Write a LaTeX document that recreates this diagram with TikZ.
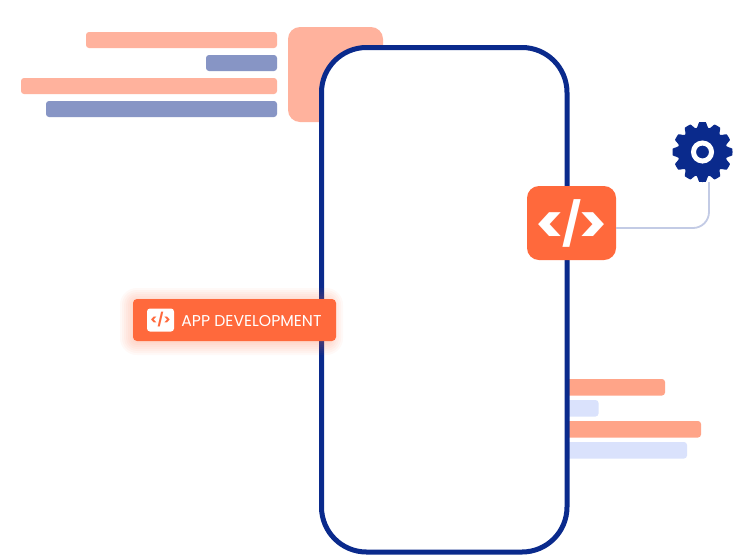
\documentclass[tikz,border=0pt]{standalone}
\usepackage{fontspec}
\setmainfont{Poppins}
\usetikzlibrary{positioning, calc}

\definecolor{navy}{HTML}{0A2A8C}
\definecolor{codeorange}{HTML}{FF693C}
\definecolor{barsalmon}{HTML}{FFB29D}
\definecolor{barblue}{HTML}{8795C5}
\definecolor{lowsalmon}{HTML}{FFA488}
\definecolor{lowblue}{HTML}{DAE2FC}
\definecolor{wirecolor}{HTML}{C3CBE5}

\begin{document}
\begin{tikzpicture}[
    x=1pt, y=-1pt,
    bar/.style={rounded corners=3pt}, % Style for the short text bars
    codebox/.style={fill=codeorange, rounded corners=12pt, minimum width=89pt, minimum height=74pt, inner sep=0pt, text=white},
    tag/.style={fill=codeorange, rounded corners=4pt, minimum width=203pt, minimum height=42pt, inner sep=0pt},
    tagicon/.style={fill=white, rounded corners=3pt, minimum width=27pt, minimum height=23pt, inner sep=0pt, text=codeorange},
    wire/.style={wirecolor, line width=1.8pt, rounded corners=16pt}
]

% Page
\fill[white] (0,0) rectangle (733,555);
\useasboundingbox (0,0) rectangle (733,555);

% Bars at the top left
\foreach \xa/\ya/\barcol in {86/32/barsalmon, 206/55/barblue, 21/78/barsalmon, 46/101/barblue}
    \fill[bar, \barcol] (\xa,\ya) rectangle (277,\ya+16);

% Square behind the phone
\fill[barsalmon, rounded corners=12pt] (288,27) rectangle (383,122);

% Bars at the bottom right
\foreach \xb/\yb/\barcol in {665/379/lowsalmon, 598.5/400/lowblue, 701/421/lowsalmon, 687/442/lowblue}
    \fill[bar, \barcol] (560,\yb) rectangle (\xb,\yb+16.5);

% Phone outline
\draw[navy, line width=5pt, fill=white, rounded corners=45pt] (321.5,47.5) rectangle (567,552);

% Gear, with the teeth drawn as one curve
\fill[navy] plot[domain=0:360, samples=289] ({702.5+(27+3*min(1,1.5*cos(12*\x)+0.7))*cos(\x)},{152+(27+3*min(1,1.5*cos(12*\x)+0.7))*sin(\x)}) -- cycle;
\node[circle, draw=white, line width=5pt, minimum size=18pt, inner sep=0pt] at (702.5,152) {};
\node[circle, minimum size=60pt, inner sep=0pt] (gear) at (702.5,152) {};

% Code box and its wire to the gear
\node[codebox] (code) at (571.5,223) {\bfseries\fontsize{42}{42}\selectfont\raisebox{-4.5pt}{\fontsize{54}{54}\selectfont <}\kern-2.5pt/\kern-2.5pt\raisebox{-4.5pt}{\fontsize{54}{54}\selectfont >}};
\draw[wire] ($(code.east)+(0,5)$) -| ($(gear.south)+(6.5,0)$);

% Label with its soft glow
\foreach \grow in {1,3,...,13}
    \fill[codeorange, fill opacity=0.04, rounded corners=4pt+\grow*1pt] (133-\grow,299-\grow+2) rectangle (336+\grow-6,341+\grow+1);
\node[tag] (tag) at (234.5,320) {};
\node[tagicon, right=14pt of tag.west] (tagicon) {\fontsize{13}{13}\selectfont\bfseries </>};
\node[right=7pt of tagicon, inner sep=0pt, text=white, yshift=-1pt] (tagtext) {\fontsize{15.7}{16}\selectfont APP DEVELOPMENT};

\end{tikzpicture}
\end{document}
